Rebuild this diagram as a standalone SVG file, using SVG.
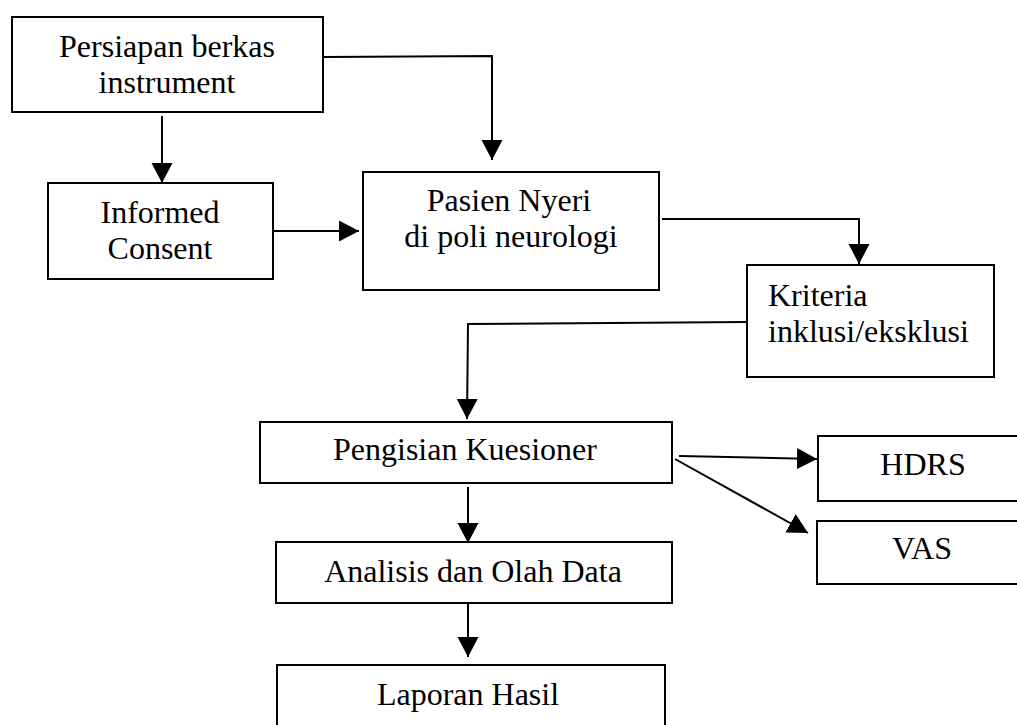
<svg xmlns="http://www.w3.org/2000/svg" width="1017" height="725" viewBox="0 0 1017 725">
<style>
.box{fill:#fff;stroke:#000;stroke-width:2}
.t{font-family:"Liberation Serif","Times New Roman",serif;font-size:32px;fill:#000}
.c{text-anchor:middle}
.ln{fill:none;stroke:#000;stroke-width:2}
</style>
<defs>
<marker id="ah" markerUnits="userSpaceOnUse" markerWidth="22" markerHeight="22" refX="20" refY="10.5" orient="auto">
<path d="M0,0 L20,10.5 L0,21 z" fill="#000"/>
</marker>
</defs>
<rect width="1017" height="725" fill="#fff"/>
<g id="connectors">
<polyline class="ln" points="323,57 492,56 492,160" marker-end="url(#ah)"/>
<line class="ln" x1="162" y1="116" x2="162" y2="183" marker-end="url(#ah)"/>
<line class="ln" x1="273" y1="231" x2="359" y2="231" marker-end="url(#ah)"/>
<polyline class="ln" points="662,219 859,219 859,264" marker-end="url(#ah)"/>
<polyline class="ln" points="747,322 468,324 467,419" marker-end="url(#ah)"/>
<line class="ln" x1="679" y1="456" x2="817" y2="459" marker-end="url(#ah)"/>
<line class="ln" x1="675" y1="459" x2="808" y2="533" marker-end="url(#ah)"/>
<line class="ln" x1="468" y1="487" x2="468" y2="543" marker-end="url(#ah)"/>
<line class="ln" x1="468" y1="603" x2="468" y2="657" marker-end="url(#ah)"/>
</g>
<g id="persiapan">
<rect class="box" x="12" y="17" width="311" height="95"/>
<text class="t c" x="167" y="57">Persiapan berkas</text>
<text class="t c" x="167" y="93">instrument</text>
</g>
<g id="informed">
<rect class="box" x="48" y="183" width="225" height="96"/>
<text class="t c" x="160" y="223">Informed</text>
<text class="t c" x="160" y="259">Consent</text>
</g>
<g id="pasien">
<rect class="box" x="363" y="172" width="296" height="118"/>
<text class="t c" x="509" y="211">Pasien Nyeri</text>
<text class="t c" x="511" y="247">di poli neurologi</text>
</g>
<g id="kriteria">
<rect class="box" x="747" y="265" width="247" height="112"/>
<text class="t" x="768" y="306">Kriteria</text>
<text class="t" x="768" y="342">inklusi/eksklusi</text>
</g>
<g id="pengisian">
<rect class="box" x="260" y="422" width="412" height="61"/>
<text class="t c" x="465" y="460">Pengisian Kuesioner</text>
</g>
<g id="hdrs">
<rect class="box" x="818" y="436" width="220" height="65"/>
<text class="t c" x="923" y="475">HDRS</text>
</g>
<g id="vas">
<rect class="box" x="817" y="521" width="220" height="63"/>
<text class="t c" x="922" y="559">VAS</text>
</g>
<g id="analisis">
<rect class="box" x="276" y="542" width="396" height="61"/>
<text class="t c" x="473" y="582">Analisis dan Olah Data</text>
</g>
<g id="laporan">
<rect class="box" x="277" y="665" width="388" height="80"/>
<text class="t c" x="468" y="705">Laporan Hasil</text>
</g>
</svg>
